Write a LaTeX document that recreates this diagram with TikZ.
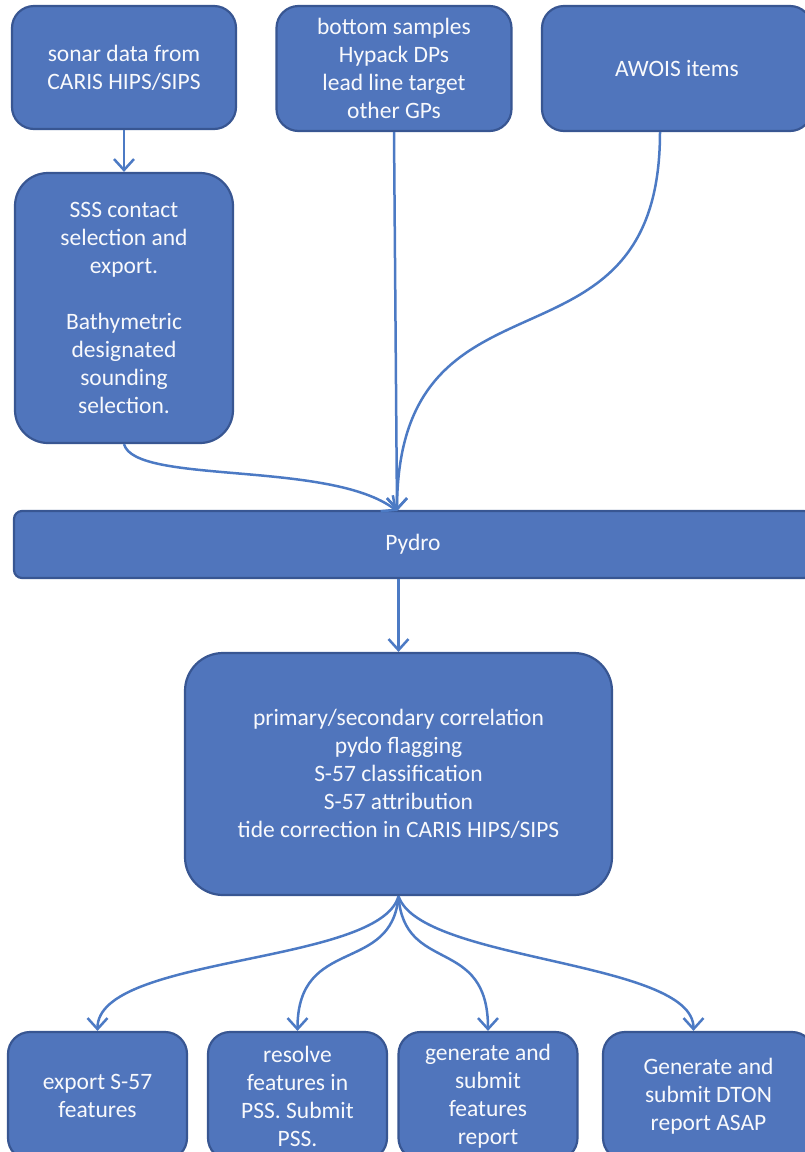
\documentclass[tikz,border=0pt]{standalone}
\usepackage{fontspec}
\newfontfamily\bodyfont{Carlito}
\usetikzlibrary{arrows.meta}
\definecolor{boxfill}{RGB}{80,117,188}
\definecolor{boxline}{RGB}{56,86,146}
\definecolor{arrowc}{RGB}{76,122,196}
\begin{document}
\begin{tikzpicture}[x=1pt,y=-1pt,
  box/.style={draw=boxline, fill=boxfill, line width=2.2pt, text=white!96!boxfill,
    font={\bodyfont\fontsize{23.5}{28}\selectfont}, align=center, inner sep=0pt},
  conn/.style={draw=arrowc, line width=2.5pt, -{Straight Barb[length=11pt,width=20pt]}}]
\useasboundingbox (0,0) rectangle (805,1152);
\clip (0,0) rectangle (805,1152);

\node[box, rounded corners=22pt, minimum width=224pt, minimum height=123pt] (A) at (124,67.5) {sonar data from\\CARIS HIPS/SIPS};
\node[box, rounded corners=22pt, minimum width=235pt, minimum height=125pt] (B) at (394,68.5) {bottom samples\\Hypack DPs\\lead line target\\other GPs};
\node[box, rounded corners=22pt, minimum width=270pt, minimum height=125pt] (C) at (677,68.5) {AWOIS items};
\node[box, rounded corners=33pt, minimum width=218pt, minimum height=270pt] (D) at (124,308) {SSS contact\\selection and\\export.\\[28pt]Bathymetric\\designated\\sounding\\selection.};
\node[box, rounded corners=8pt, minimum width=798pt, minimum height=67pt] (P) at (413,544.5) {Pydro};
\node[box, rounded corners=38pt, minimum width=427pt, minimum height=242pt] (E) at (398.5,774) {primary/secondary correlation\\pydo flagging\\S-57 classification\\S-57 attribution\\tide correction in CARIS HIPS/SIPS};
\node[box, rounded corners=22pt, minimum width=179pt, minimum height=128pt] (F) at (97.5,1096) {export S-57\\features};
\node[box, rounded corners=22pt, minimum width=179pt, minimum height=128pt] (G) at (297.5,1096) {resolve\\features in\\PSS. Submit\\PSS.};
\node[box, rounded corners=22pt, minimum width=179pt, minimum height=128pt] (H) at (488,1096) {generate and\\submit\\features\\report};
\node[box, rounded corners=22pt, minimum width=211pt, minimum height=128pt] (I) at (708.5,1096) {Generate and\\submit DTON\\report ASAP};

\coordinate (pin) at (397,511);
\draw[conn] (A.south) -- (D.north);
\draw[conn] (B.south) -- (pin);
\draw[conn] ([xshift=-17pt]C.south) .. controls (660,390) and (398,250) .. (pin);
\draw[conn] (D.south) .. controls (135,485) and (330,460) .. (pin);
\draw[conn] (E.north |- P.south) -- (E.north);
\draw[conn] (E.south) .. controls (380,965) and (97.5,955) .. (F.north);
\draw[conn] (E.south) .. controls (392,975) and (297.5,935) .. (G.north);
\draw[conn] (E.south) .. controls (404,975) and (488,935) .. (H.north);
\draw[conn] (E.south) .. controls (420,962) and (693.5,960) .. ([xshift=-15pt]I.north);
\end{tikzpicture}
\end{document}
